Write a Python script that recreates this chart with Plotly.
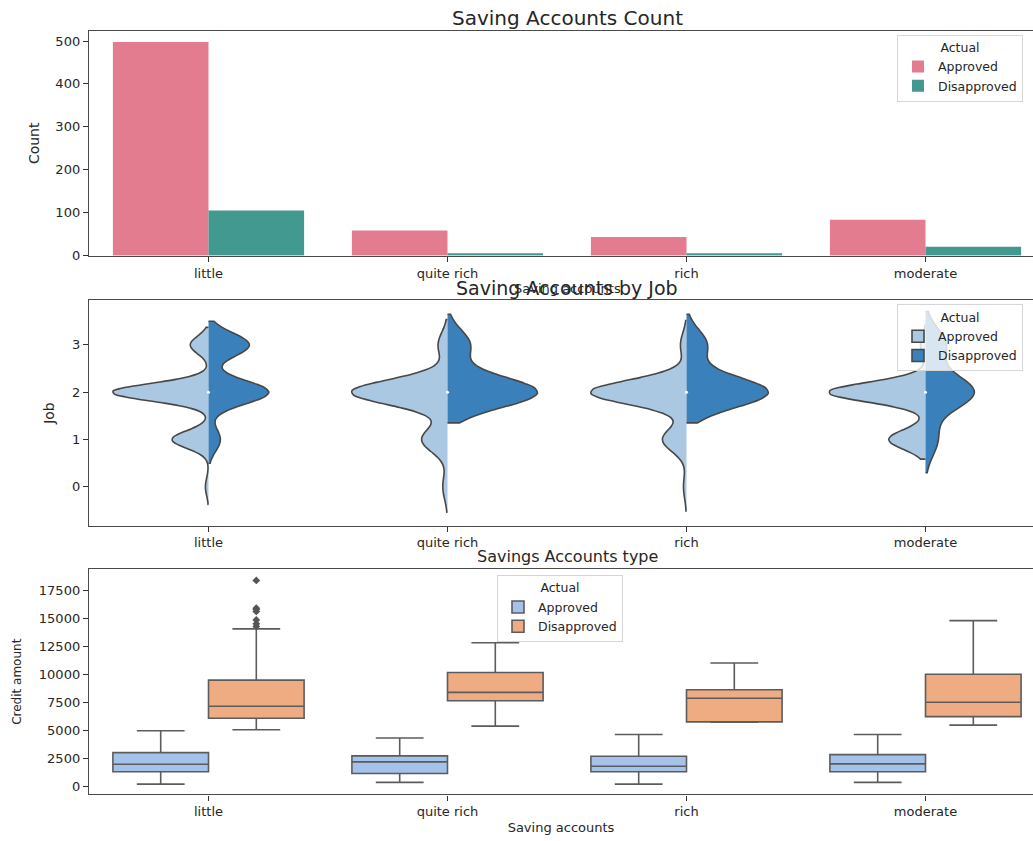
import numpy as np
import plotly.graph_objects as go

# ---------------- data ----------------
categories = ["little", "quite rich", "rich", "moderate"]
hues = ["Approved", "Disapproved"]

# Subplot 1: counts
count_approved = [498, 58, 43, 83]
count_disapproved = [105, 5, 5, 20]

# Subplot 2: job distribution (counts of job level 0..3) per saving-account category
job_levels = [0, 1, 2, 3]
job_counts_approved = [
    [10, 118, 311, 59],   # little
    [2, 11, 41, 4],       # quite rich
    [1, 8, 32, 2],        # rich
    [0, 22, 58, 3],       # moderate
]
job_counts_disapproved = [
    [0, 11, 56, 38],      # little
    [0, 0, 4, 1],         # quite rich
    [0, 0, 4, 1],         # rich
    [0, 3, 12, 5],        # moderate
]

# Subplot 3: credit amount box statistics
lower_approved = [231, 381, 231, 381]
q1_approved = [1330, 1180, 1330, 1330]
median_approved = [2004, 2217, 1827, 2040]
q3_approved = [3042, 2750, 2714, 2865]
upper_approved = [4993, 4345, 4665, 4665]

lower_disapproved = [5080, 5410, 5764, 5498]
q1_disapproved = [6119, 7680, 5793, 6261]
median_disapproved = [7183, 8425, 7893, 7538]
q3_disapproved = [9516, 10198, 8656, 10048]
upper_disapproved = [14100, 12859, 11050, 14837]

outliers_little_disapproved = [14318, 14555, 14896, 15653, 15857, 15945, 18424]

# ---------------- styling ----------------
W, H = 1033, 841
FONT = "DejaVu Sans"
TXT = "#262626"
bar_colors = {"Approved": "#e27c8e", "Disapproved": "#41998f"}
vio_colors = {"Approved": "#aac8e1", "Disapproved": "#3a80ba"}
box_colors = {"Approved": "#a5c2ea", "Disapproved": "#efab82"}
OUTLINE = "#474747"
BOXLINE = "#5c5c5c"

left_px = 89
cat_px = 239
x_range = [-0.5, -0.5 + (W - left_px) / cat_px]
x_dom = [left_px / W, 1.0]
VIOLIN_FULL = 0.8


def ydom(top_px, bottom_px):
    return [1 - bottom_px / H, 1 - top_px / H]


def expand(counts):
    return np.repeat(job_levels, counts).astype(float)


def scott_bw(vals):
    return float(np.std(vals, ddof=1) * len(vals) ** (-1 / 5))


def kde_peak(vals, bw):
    grid = np.linspace(vals.min() - 2 * bw, vals.max() + 2 * bw, 2001)
    dens = np.exp(-0.5 * ((grid[:, None] - vals[None, :]) / bw) ** 2).sum(axis=1)
    return dens.max() / (len(vals) * bw * np.sqrt(2 * np.pi))


fig = go.Figure()

# ---- bars ----
for hue, vals in zip(hues, [count_approved, count_disapproved]):
    fig.add_trace(go.Bar(
        x=categories, y=vals, name=hue,
        marker=dict(color=bar_colors[hue], line=dict(width=0)),
        xaxis="x", yaxis="y", legend="legend",
    ))

# ---- split violins (widths scaled per category like seaborn scale='area', scale_hue=True) ----
for i, cat in enumerate(categories):
    va = expand(job_counts_approved[i])
    vd = expand(job_counts_disapproved[i])
    bwa, bwd = scott_bw(va), scott_bw(vd)
    pa, pd_ = kde_peak(va, bwa), kde_peak(vd, bwd)
    pmax = max(pa, pd_)
    for hue, vals, bw, peak, side in [("Approved", va, bwa, pa, "negative"),
                                      ("Disapproved", vd, bwd, pd_, "positive")]:
        fig.add_trace(go.Violin(
            x=[cat] * len(vals), y=vals, name=hue, side=side,
            width=VIOLIN_FULL * peak / pmax,
            scalemode="width", spanmode="soft", bandwidth=bw,
            fillcolor=vio_colors[hue], opacity=1,
            line=dict(color=OUTLINE, width=1.6),
            points=False, box_visible=False, meanline_visible=False,
            legendgroup=hue, showlegend=(i == 0), legend="legend2",
            xaxis="x2", yaxis="y2", hoverinfo="skip",
        ))

fig.add_trace(go.Scatter(
    x=categories,
    y=[float(np.median(expand(np.add(a, d)))) for a, d in
       zip(job_counts_approved, job_counts_disapproved)],
    mode="markers", marker=dict(color="white", size=3),
    showlegend=False, xaxis="x2", yaxis="y2", hoverinfo="skip",
))

# ---- boxes ----
positions = np.arange(len(categories))
for hue, off, stats in [
    ("Approved", -0.2, (lower_approved, q1_approved, median_approved, q3_approved, upper_approved)),
    ("Disapproved", 0.2, (lower_disapproved, q1_disapproved, median_disapproved, q3_disapproved, upper_disapproved)),
]:
    lo, q1, md, q3, up = stats
    fig.add_trace(go.Box(
        x=list(positions + off), lowerfence=lo, q1=q1, median=md, q3=q3, upperfence=up,
        name=hue, width=0.4, whiskerwidth=0.5, boxpoints=False,
        fillcolor=box_colors[hue], line=dict(color=BOXLINE, width=1.6),
        xaxis="x3", yaxis="y3", legend="legend3", hoverinfo="skip",
    ))

fig.add_trace(go.Scatter(
    x=[positions[0] + 0.2] * len(outliers_little_disapproved), y=outliers_little_disapproved,
    mode="markers", marker=dict(symbol="diamond", size=6, color="#555555"),
    showlegend=False, xaxis="x3", yaxis="y3", hoverinfo="skip",
))

# ---------------- layout ----------------
axis_common = dict(showline=True, linecolor="#4a4a4a", linewidth=1.4, ticks="outside",
                   ticklen=5, tickcolor="#333333", tickwidth=1,
                   tickfont=dict(family=FONT, size=13, color=TXT),
                   showgrid=False, zeroline=False)

legend_common = dict(
    bgcolor="rgba(255,255,255,0.8)", bordercolor="#d6d6d6", borderwidth=1,
    font=dict(family=FONT, size=12.5, color=TXT),
    title=dict(text="Actual", side="top center", font=dict(family=FONT, size=12.5, color=TXT)),
    xanchor="left", yanchor="top", tracegroupgap=0, itemwidth=30,
)

fig.update_layout(
    width=W, height=H, autosize=False,
    margin=dict(l=0, r=0, t=0, b=0),
    paper_bgcolor="white", plot_bgcolor="white",
    font=dict(family=FONT, color=TXT),
    barmode="group", bargap=0.2, bargroupgap=0,
    violinmode="overlay", violingap=0, boxmode="overlay",
    xaxis=dict(domain=x_dom, anchor="y", range=x_range, mirror=True, type="category",
               **axis_common),
    yaxis=dict(domain=ydom(31, 258), anchor="x", range=[-1, 524], tickvals=[0, 100, 200, 300, 400, 500],
               title=dict(text="Count", font=dict(family=FONT, size=14, color=TXT), standoff=12),
               **axis_common),
    xaxis2=dict(domain=x_dom, anchor="y2", range=x_range, mirror=True, type="category",
                **axis_common),
    yaxis2=dict(domain=ydom(303, 530), anchor="x2", range=[-0.82, 3.94], tickvals=[0, 1, 2, 3],
                title=dict(text="Job", font=dict(family=FONT, size=14, color=TXT), standoff=14),
                **axis_common),
    xaxis3=dict(domain=x_dom, anchor="y3", range=x_range, mirror=True,
                tickvals=list(positions), ticktext=categories,
                title=dict(text="Saving accounts", font=dict(family=FONT, size=13, color=TXT), standoff=4),
                **axis_common),
    yaxis3=dict(domain=ydom(574, 801), anchor="x3", range=[-683, 19425], dtick=2500, tick0=0,
                tickformat="d",
                title=dict(text="Credit amount", font=dict(family=FONT, size=12, color=TXT), standoff=14),
                **axis_common),
    legend=dict(x=897 / W, y=1 - 35 / H, **legend_common),
    legend2=dict(x=897 / W, y=1 - 307 / H, **legend_common),
    legend3=dict(x=497 / W, y=1 - 580 / H, **legend_common),
)

title_x = (left_px + (left_px + 4 * cat_px)) / 2 / W
fig.add_annotation(text="Saving Accounts Count", x=title_x, y=1 - 18 / H, xref="paper", yref="paper",
                   showarrow=False, font=dict(family=FONT, size=20, color=TXT), xanchor="center", yanchor="middle")
fig.add_annotation(text="Saving accounts", x=title_x, y=1 - 291 / H, xref="paper", yref="paper",
                   showarrow=False, font=dict(family=FONT, size=13, color=TXT), xanchor="center", yanchor="middle")
fig.add_annotation(text="Saving Accounts by Job", x=title_x, y=1 - 290 / H, xref="paper", yref="paper",
                   showarrow=False, font=dict(family=FONT, size=19, color=TXT), xanchor="center", yanchor="middle")
fig.add_annotation(text="Savings Accounts type", x=title_x, y=1 - 561 / H, xref="paper", yref="paper",
                   showarrow=False, font=dict(family=FONT, size=16, color=TXT), xanchor="center", yanchor="middle")

fig.write_html("out.html", config={"displayModeBar": False},
               post_script="document.body.style.margin='0px';document.body.style.overflow='hidden';")
